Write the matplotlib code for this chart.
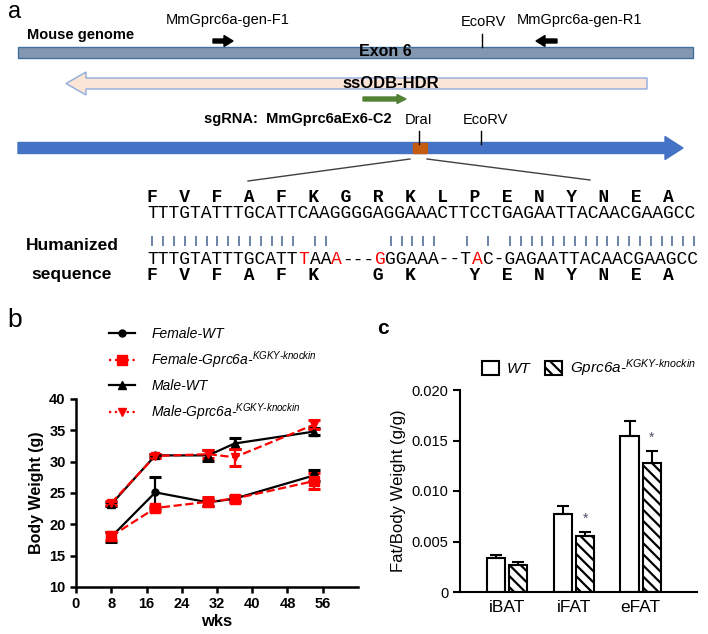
import matplotlib
matplotlib.use('Agg')
import matplotlib.pyplot as plt
from matplotlib.patches import Rectangle, FancyArrow
from matplotlib.lines import Line2D

plt.rcParams['font.family'] = ['Liberation Sans', 'DejaVu Sans']
plt.rcParams['mathtext.fontset'] = 'custom'
plt.rcParams['mathtext.rm'] = 'Liberation Sans:italic'
plt.rcParams['mathtext.it'] = 'Liberation Sans:italic'
plt.rcParams['hatch.linewidth'] = 1.6

# ---- panel a: sequences ----
aa_top = ['F', 'V', 'F', 'A', 'F', 'K', 'G', 'R', 'K', 'L', 'P', 'E', 'N', 'Y', 'N', 'E', 'A']
dna_top = 'TTTGTATTTGCATTCAAGGGGAGGAAACTTCCTGAGAATTACAACGAAGCC'
dna_ki = 'TTTGTATTTGCATTTAAA---GGGAAA--TAC-GAGAATTACAACGAAGCC'
ki_red = [14, 17, 21, 30]
aa_ki = ['F', 'V', 'F', 'A', 'F', 'K', '', 'G', 'K', '', 'Y', 'E', 'N', 'Y', 'N', 'E', 'A']

# ---- panel b: body weight ----
weeks = [8, 18, 30, 36, 54]
female_wt = [18.0, 25.1, 23.5, 24.1, 27.8]
female_wt_err = [0.8, 2.5, 0.6, 0.4, 0.9]
female_ki = [18.1, 22.6, 23.6, 24.1, 26.9]
female_ki_err = [0.6, 0.4, 0.7, 0.5, 1.3]
male_wt = [23.2, 31.0, 31.0, 32.9, 34.8]
male_wt_err = [0.3, 0.3, 0.9, 0.8, 0.5]
male_ki = [23.4, 30.9, 31.2, 30.7, 35.9]
male_ki_err = [0.3, 0.3, 0.6, 1.4, 0.7]

# ---- panel c: fat / body weight ----
tissues = ['iBAT', 'iFAT', 'eFAT']
fat_wt = [0.0034, 0.0077, 0.0154]
fat_wt_err = [0.0003, 0.0008, 0.0015]
fat_ki = [0.0027, 0.0055, 0.0128]
fat_ki_err = [0.0003, 0.0004, 0.0012]
fat_sig = [False, True, True]

W, H = 708, 634
fig = plt.figure(figsize=(W / 100, H / 100), dpi=100)

# schematic drawn in pixel coordinates
ax_a = fig.add_axes([0, 0, 1, 1])
ax_a.set_xlim(0, W)
ax_a.set_ylim(H, 0)
ax_a.axis('off')

ax_a.text(8, 12, 'a', fontsize=17, va='center')
ax_a.text(27, 35, 'Mouse genome', fontsize=10.5, fontweight='bold', va='center')
ax_a.text(228, 20, 'MmGprc6a-gen-F1', fontsize=10.5, ha='center', va='center')
ax_a.text(483, 22, 'EcoRV', fontsize=10.5, ha='center', va='center')
ax_a.text(580, 20, 'MmGprc6a-gen-R1', fontsize=10.5, ha='center', va='center')

ax_a.add_patch(FancyArrow(213, 41, 20, 0, width=4, head_width=11, head_length=9,
                          length_includes_head=True, color='black'))
ax_a.add_patch(FancyArrow(557, 41, -21, 0, width=4, head_width=11, head_length=9,
                          length_includes_head=True, color='black'))
ax_a.plot([482, 482], [34, 47], color='black', lw=1)

ax_a.add_patch(Rectangle((18, 47), 675, 11, facecolor='#8497B0', edgecolor='#41719C', lw=1))
ax_a.text(385, 52, 'Exon 6', fontsize=11.5, fontweight='bold', ha='center', va='center')

ax_a.add_patch(FancyArrow(647, 83.5, -581, 0, width=11, head_width=23, head_length=20,
                          length_includes_head=True, facecolor='#FBE5D6', edgecolor='#8FAADC', lw=1))
ax_a.text(391, 83, 'ssODB-HDR', fontsize=12, fontweight='bold', ha='center', va='center')
ax_a.add_patch(FancyArrow(363, 99, 43, 0, width=4, head_width=9, head_length=9,
                          length_includes_head=True, color='#548235'))

ax_a.text(204, 119, 'sgRNA:  MmGprc6aEx6-C2', fontsize=10.5, fontweight='bold', va='center')
ax_a.text(419, 120, 'DraI', fontsize=10.5, ha='center', va='center')
ax_a.text(485, 120, 'EcoRV', fontsize=10.5, ha='center', va='center')
ax_a.plot([419, 419], [131, 144], color='black', lw=1)
ax_a.plot([481, 481], [131, 144], color='black', lw=1)

ax_a.add_patch(FancyArrow(18, 148, 665, 0, width=11, head_width=23, head_length=18,
                          length_includes_head=True, color='#4472C4'))
ax_a.add_patch(Rectangle((413, 143), 14, 10, color='#C55A11'))
ax_a.plot([410, 248], [159, 181], color='#404040', lw=1)
ax_a.plot([427, 590], [159, 180], color='#404040', lw=1)

# sequences (monospace)
seq_x = 147
fs = 13
cw = 0.6 * fs * 100 / 72
ax_a.text(seq_x, 198, '  '.join(aa_top), family='Liberation Mono', fontsize=fs,
          fontweight='bold', va='center')
ax_a.text(seq_x, 213, dna_top, family='Liberation Mono', fontsize=fs, va='center')

# knock-in sequence in runs of one colour each
start = 0
while start < len(dna_ki):
    red = start in ki_red
    end = start + 1
    while end < len(dna_ki) and (end in ki_red) == red:
        end += 1
    ax_a.text(seq_x + start * cw, 260, dna_ki[start:end], family='Liberation Mono',
              fontsize=fs, va='center', color='red' if red else 'black')
    start = end

ax_a.text(seq_x, 275, '  '.join(c if c else ' ' for c in aa_ki), family='Liberation Mono',
          fontsize=fs, fontweight='bold', va='center')
match = [i for i in range(len(dna_top)) if dna_top[i] == dna_ki[i]]
ax_a.vlines([seq_x + (i + 0.5) * cw for i in match], 236, 246, color='#55709A', lw=1.2)

ax_a.text(72, 246, 'Humanized', fontsize=12.5, fontweight='bold', ha='center', va='center')
ax_a.text(72, 274, 'sequence', fontsize=12.5, fontweight='bold', ha='center', va='center')

# ---- panel b ----
ax_a.text(7, 320, 'b', fontsize=19, va='center')
ax_b = fig.add_axes([76 / W, 1 - 587 / H, 282 / W, 188 / H])
sup = r'$^{\text{KGKY-knockin}}$'
series = [
    (female_wt, female_wt_err, 'black', '-', 'o', 5, 'Female-WT'),
    (male_wt, male_wt_err, 'black', '-', '^', 6, 'Male-WT'),
    (female_ki, female_ki_err, 'red', '--', 's', 7, 'Female-Gprc6a-' + sup),
    (male_ki, male_ki_err, 'red', '--', 'v', 6, 'Male-Gprc6a-' + sup),
]
for vals, errs, c, ls, m, ms, lab in series:
    ax_b.errorbar(weeks, vals, yerr=errs, color=c, ls=ls, marker=m, ms=ms, lw=1.6,
                  elinewidth=1.6, capsize=4, capthick=2.2)
ax_b.set_xlim(0, 64)
ax_b.set_ylim(10, 40)
ax_b.set_xticks(range(0, 57, 8))
ax_b.set_yticks(range(10, 41, 5))
for s in ['top', 'right']:
    ax_b.spines[s].set_visible(False)
for s in ['left', 'bottom']:
    ax_b.spines[s].set_linewidth(1.8)
ax_b.tick_params(width=1.8, length=4, labelsize=10.5)
for lb in ax_b.get_xticklabels() + ax_b.get_yticklabels():
    lb.set_fontweight('bold')
ax_b.set_xlabel('wks', fontsize=12, fontweight='bold', labelpad=2)
ax_b.set_ylabel('Body Weight (g)', fontsize=11.5, fontweight='bold', labelpad=4)

order = [0, 2, 1, 3]
handles = []
labels = []
for k in order:
    vals, errs, c, ls, m, ms, lab = series[k]
    handles.append(Line2D([], [], color=c, ls='-' if c == 'black' else ':', marker=m,
                          ms=ms, lw=1.6))
    labels.append(lab)
fig.legend(handles, labels, loc='upper left', bbox_to_anchor=(97 / W, 1 - 314 / H),
           frameon=False, prop={'style': 'italic', 'size': 10}, handlelength=1.8,
           handletextpad=1.2, labelspacing=0.62)

# ---- panel c ----
ax_a.text(377, 328, 'c', fontsize=15, fontweight='bold', va='center')
ax_c = fig.add_axes([460 / W, 1 - 592 / H, 237 / W, 202 / H])
xpos = list(range(len(tissues)))
off = 0.168
bw = 0.27
x_wt = [x - off for x in xpos]
x_ki = [x + off for x in xpos]
ax_c.bar(x_wt, fat_wt, bw, facecolor='white', edgecolor='black', lw=1.5)
ax_c.bar(x_ki, fat_ki, bw, facecolor='white', edgecolor='black', lw=1.5, hatch='\\\\\\')
ax_c.errorbar(x_wt, fat_wt, yerr=[[0] * 3, fat_wt_err], fmt='none', ecolor='black',
              elinewidth=1.5, capsize=4, capthick=1.5)
ax_c.errorbar(x_ki, fat_ki, yerr=[[0] * 3, fat_ki_err], fmt='none', ecolor='black',
              elinewidth=1.5, capsize=4, capthick=1.5)
for i, sig in enumerate(fat_sig):
    if sig:
        ax_c.text(x_ki[i], fat_ki[i] + fat_ki_err[i] + 0.0013, '*', ha='center', va='center',
                  fontsize=10, color='#50506A')
ax_c.set_xlim(-0.70, 2.84)
ax_c.set_ylim(0, 0.02)
ax_c.set_yticks([0, 0.005, 0.01, 0.015, 0.02])
ax_c.set_yticklabels(['0', '0.005', '0.010', '0.015', '0.020'])
ax_c.set_xticks(xpos)
ax_c.set_xticklabels(tissues)
for s in ['top', 'right']:
    ax_c.spines[s].set_visible(False)
for s in ['left', 'bottom']:
    ax_c.spines[s].set_linewidth(1.5)
ax_c.tick_params(axis='y', width=1.5, length=5, labelsize=10.5)
ax_c.tick_params(axis='x', length=0, labelsize=12.5, pad=6)
ax_c.set_ylabel('Fat/Body Weight (g/g)', fontsize=12, labelpad=4)

c_handles = [Rectangle((0, 0), 1, 1, facecolor='white', edgecolor='black', lw=1.5),
             Rectangle((0, 0), 1, 1, facecolor='white', edgecolor='black', lw=1.5, hatch='\\\\\\')]
fig.legend(c_handles, ['WT', 'Gprc6a-' + sup], loc='center left',
           bbox_to_anchor=(468 / W, 1 - 368 / H), ncol=2, frameon=False,
           prop={'style': 'italic', 'size': 11}, handlelength=1.1, handleheight=1.1,
           handletextpad=0.5, columnspacing=1.0)

fig.savefig('out.png', dpi=100)
